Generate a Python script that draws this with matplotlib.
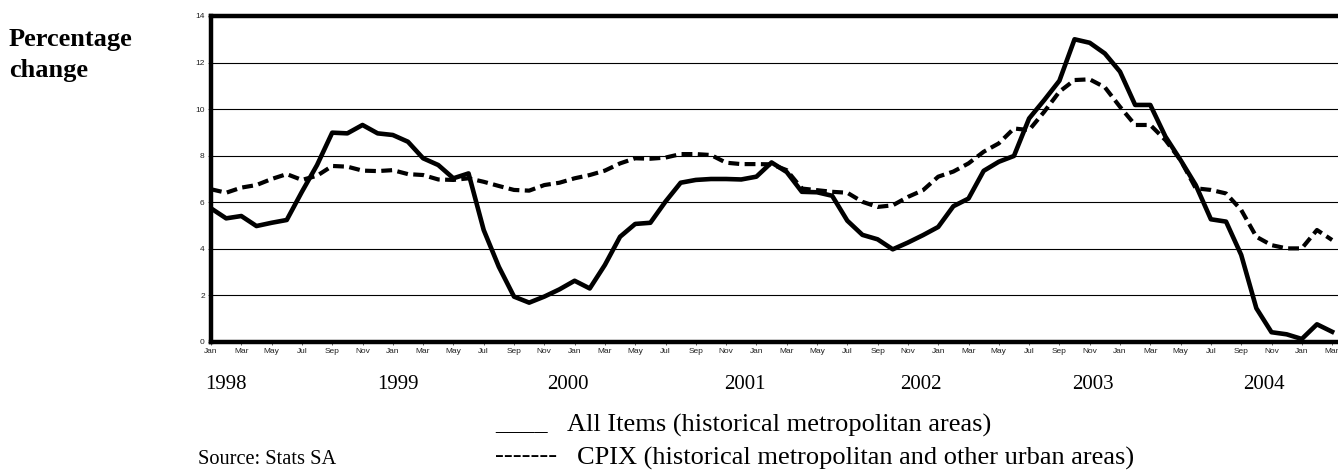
import matplotlib
matplotlib.use('Agg')
import matplotlib.pyplot as plt
import numpy as np

# ---- data (monthly, Jan 1998 .. Mar 2004) ----
month_names = ['Jan', 'Feb', 'Mar', 'Apr', 'May', 'Jun',
               'Jul', 'Aug', 'Sep', 'Oct', 'Nov', 'Dec']
year_labels = ['1998', '1999', '2000', '2001', '2002', '2003', '2004']

all_items = [
    5.74, 5.31, 5.41, 4.98, 5.12, 5.24, 6.45, 7.60, 8.99, 8.96, 9.32, 8.96,   # 1998
    8.89, 8.60, 7.89, 7.60, 7.03, 7.24, 4.81, 3.23, 1.95, 1.69, 1.95, 2.26,   # 1999
    2.63, 2.30, 3.31, 4.52, 5.07, 5.12, 6.03, 6.84, 6.96, 7.00, 7.00, 6.98,   # 2000
    7.10, 7.71, 7.30, 6.45, 6.43, 6.28, 5.21, 4.60, 4.41, 3.98, 4.27, 4.59,   # 2001
    4.94, 5.83, 6.16, 7.35, 7.74, 7.99, 9.60, 10.39, 11.22, 13.00, 12.85, 12.39,  # 2002
    11.61, 10.18, 10.18, 8.82, 7.81, 6.74, 5.27, 5.17, 3.74, 1.45, 0.42, 0.33,   # 2003
    0.13, 0.76, 0.44,                                                         # 2004
]

cpix = [
    6.56, 6.41, 6.63, 6.74, 7.00, 7.21, 6.96, 7.14, 7.56, 7.53, 7.36, 7.34,   # 1998
    7.38, 7.21, 7.17, 6.98, 6.96, 7.03, 6.88, 6.70, 6.53, 6.50, 6.74, 6.84,   # 1999
    7.03, 7.17, 7.36, 7.67, 7.89, 7.87, 7.92, 8.07, 8.07, 8.03, 7.70, 7.64,   # 2000
    7.64, 7.63, 7.38, 6.59, 6.52, 6.45, 6.41, 6.02, 5.80, 5.87, 6.23, 6.52,   # 2001
    7.10, 7.32, 7.67, 8.17, 8.53, 9.17, 9.10, 9.89, 10.75, 11.25, 11.28, 10.94,  # 2002
    10.10, 9.32, 9.32, 8.67, 7.81, 6.60, 6.53, 6.38, 5.67, 4.52, 4.16, 4.02,   # 2003
    4.02, 4.81, 4.38,                                                         # 2004
]

legend_solid = 'All Items (historical metropolitan areas)'
legend_dash = 'CPIX (historical metropolitan and other urban areas)'

# ---- figure ----
W, H = 1338, 474
fig = plt.figure(figsize=(W / 100, H / 100), dpi=100)

px_per_month = 15.15
x_max = 76
ax = fig.add_axes([211 / W, (H - 342) / H, x_max * px_per_month / W, 326 / H])

x = np.arange(len(all_items))
ax.plot(x, cpix, color='black', lw=3.0, dashes=(2.6, 1.3),
        dash_capstyle='butt', solid_joinstyle='round', zorder=3)
ax.plot(x, all_items, color='black', lw=3.3, solid_joinstyle='round', zorder=3)

ax.set_xlim(0, x_max)
ax.set_ylim(0, 14)

ax.set_yticks(np.arange(0, 15, 2))
ax.set_yticklabels([str(v) for v in range(0, 15, 2)],
                   fontsize=6, family='Liberation Sans', color='#222222')
xt = np.arange(0, len(all_items), 2)
ax.set_xticks(xt)
ax.set_xticklabels([month_names[i % 12] for i in xt],
                   fontsize=6, family='Liberation Sans', color='#222222')
ax.tick_params(axis='both', direction='out', length=2.5, width=0.6, pad=2,
               color='#444444')

ax.yaxis.grid(True, color='black', lw=0.8)
ax.set_axisbelow(True)

for side in ['left', 'top', 'bottom']:
    ax.spines[side].set_linewidth(3.2)
    ax.spines[side].set_color('black')
ax.spines['right'].set_visible(False)

# ---- texts ----
def fy(y):
    return (H - y) / H

def fx(xp):
    return xp / W

fig.text(fx(9), fy(46), 'Percentage', fontsize=19, fontweight='bold',
         family='Liberation Serif', va='baseline', ha='left')
fig.text(fx(9), fy(77), 'change', fontsize=19, fontweight='bold',
         family='Liberation Serif', va='baseline', ha='left')

year_centers = [226, 398, 568, 745, 921, 1093, 1264]
for xc, lab in zip(year_centers, year_labels):
    fig.text(fx(xc), fy(389), lab, fontsize=15, family='Liberation Serif',
             ha='center', va='baseline')

fig.text(fx(198), fy(464), 'Source: Stats SA', fontsize=14.7,
         family='Liberation Serif', ha='left', va='baseline')

fig.text(fx(495), fy(429), '____', fontsize=19, family='Liberation Serif',
         ha='left', va='baseline')
fig.text(fx(567), fy(432), legend_solid, fontsize=19,
         family='Liberation Serif', ha='left', va='baseline')
fig.text(fx(495), fy(462), '-------', fontsize=19, family='Liberation Serif',
         ha='left', va='baseline')
fig.text(fx(577), fy(465), legend_dash, fontsize=19,
         family='Liberation Serif', ha='left', va='baseline')

fig.savefig('out.png', dpi=100)
